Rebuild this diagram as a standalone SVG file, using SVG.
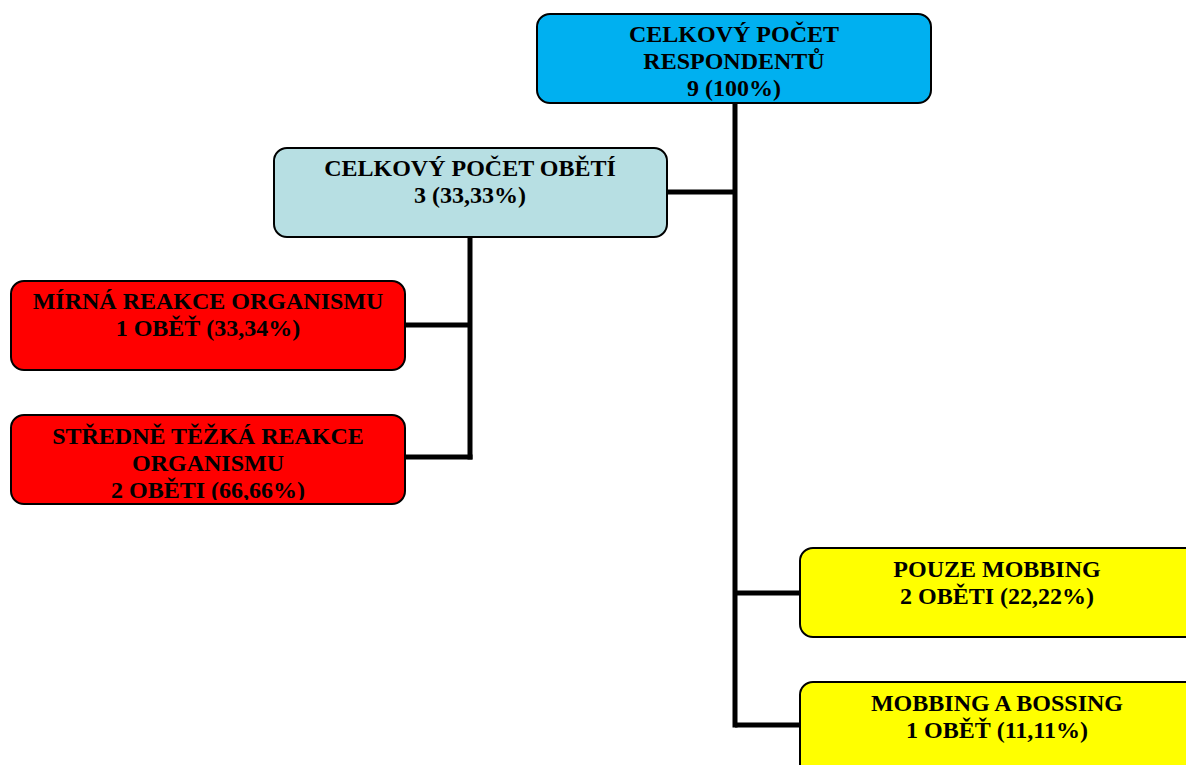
<svg xmlns="http://www.w3.org/2000/svg" width="1186" height="765" viewBox="0 0 1186 765">
  <style>
    .box { stroke: #000; stroke-width: 2; }
    .t { font-family: "Liberation Serif", "Times New Roman", serif; font-weight: bold; font-size: 24px; fill: #000; text-anchor: middle; }
    .link { fill: none; stroke: #000; stroke-width: 5; stroke-linecap: butt; stroke-linejoin: miter; }
    .blue { fill: #00b0f0; }
    .pale { fill: #b7dfe3; }
    .red { fill: #ff0000; }
    .yellow { fill: #ffff00; }
  </style>
  <defs>
    <clipPath id="clip-stredne"><rect x="11" y="415" width="394" height="85"/></clipPath>
  </defs>
  <rect width="1186" height="765" fill="#fff"/>

  <g id="connectors">
    <path class="link" d="M735 103 V727.5"/>
    <path class="link" d="M667 192 H735"/>
    <path class="link" d="M735 593 H800"/>
    <path class="link" d="M735 725 H800"/>
    <path class="link" d="M470 237 V459.5"/>
    <path class="link" d="M405 325 H470"/>
    <path class="link" d="M405 457 H472.5"/>
  </g>

  <g id="node-respondenti">
    <rect class="box blue" x="537" y="14" width="394" height="89" rx="13"/>
    <text class="t" x="734" y="42">CELKOVÝ POČET</text>
    <text class="t" x="734" y="69">RESPONDENTŮ</text>
    <text class="t" x="734" y="96">9 (100%)</text>
  </g>

  <g id="node-obeti">
    <rect class="box pale" x="274" y="148" width="393" height="89" rx="13"/>
    <text class="t" x="470" y="176">CELKOVÝ POČET OBĚTÍ</text>
    <text class="t" x="470" y="203">3 (33,33%)</text>
  </g>

  <g id="node-mirna">
    <rect class="box red" x="11" y="281" width="394" height="89" rx="13"/>
    <text class="t" x="208" y="309">MÍRNÁ REAKCE ORGANISMU</text>
    <text class="t" x="208" y="336">1 OBĚŤ (33,34%)</text>
  </g>

  <g id="node-stredne">
    <rect class="box red" x="11" y="415" width="394" height="89" rx="13"/>
    <g clip-path="url(#clip-stredne)">
      <text class="t" x="208" y="444">STŘEDNĚ TĚŽKÁ REAKCE</text>
      <text class="t" x="208" y="471">ORGANISMU</text>
      <text class="t" x="208" y="498">2 OBĚTI (66,66%)</text>
    </g>
  </g>

  <g id="node-mobbing">
    <rect class="box yellow" x="800" y="548" width="400" height="89" rx="13"/>
    <text class="t" x="997" y="577">POUZE MOBBING</text>
    <text class="t" x="997" y="604">2 OBĚTI (22,22%)</text>
  </g>

  <g id="node-bossing">
    <rect class="box yellow" x="800" y="682" width="400" height="100" rx="13"/>
    <text class="t" x="997" y="711">MOBBING A BOSSING</text>
    <text class="t" x="997" y="738">1 OBĚŤ (11,11%)</text>
  </g>
</svg>
